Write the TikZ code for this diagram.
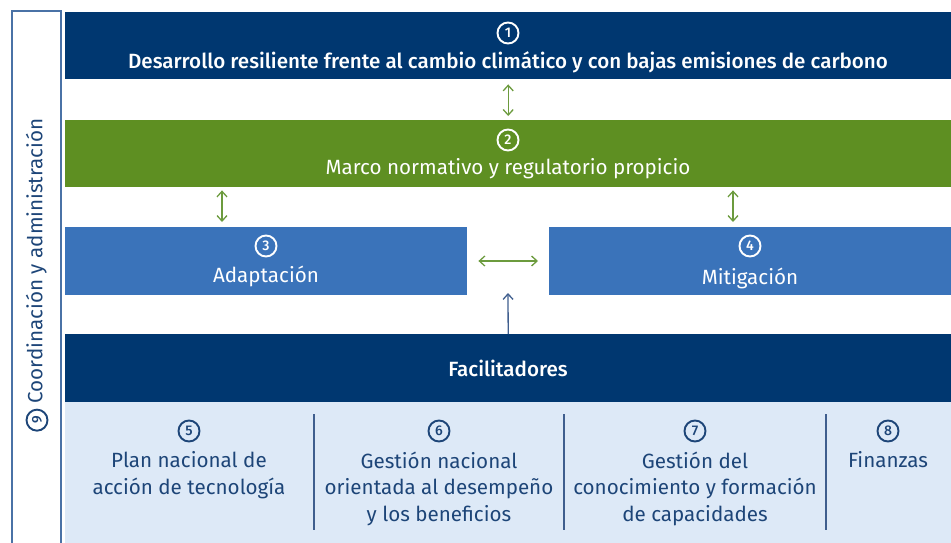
\documentclass[tikz,border=0pt]{standalone}
\usepackage{fontspec}
\setmainfont{Fira Sans}
\newfontfamily\medfont{Fira Sans Medium}
\usetikzlibrary{arrows.meta,calc}
\definecolor{dblue}{HTML}{003770}
\definecolor{dgreen}{HTML}{5E8F22}
\definecolor{mblue}{HTML}{3A73BA}
\definecolor{lblue}{HTML}{DDE9F7}
\definecolor{tblue}{HTML}{1D4578}
\definecolor{fblue}{HTML}{4A72A6}
\definecolor{agreen}{HTML}{6C9B3E}
\definecolor{ablue}{HTML}{3F5E8E}
\tikzset{
  blk/.style={draw=none,anchor=north west,inner sep=0pt},
  numc/.style={circle,draw=#1,line width=1.9pt,text=#1,inner sep=0pt,minimum size=21pt,font=\medfont\fontsize{14}{14}\selectfont},
  wtxt/.style={text=white,font=\fontsize{20.6}{24}\selectfont,align=center},
  btxt/.style={text=tblue,font=\fontsize{20.6}{26.5}\selectfont,align=center},
  garr/.style={{Straight Barb[length=5.5pt,width=10pt]}-{Straight Barb[length=5.5pt,width=10pt]},draw=agreen,line width=1.3pt},
  barr/.style={-{Straight Barb[length=5.5pt,width=10pt]},draw=ablue,line width=1.3pt},
  divl/.style={draw=ablue,line width=1.3pt}
}
\begin{document}
\begin{tikzpicture}[x=1pt,y=-1pt]
\useasboundingbox (0,0) rectangle (951,543);
% left frame
\draw[fblue,line width=1.3pt] (12,545) -- (12,11) -- (61,11) -- (61,545);
\node[rotate=90,text=tblue,font=\fontsize{20.6}{24}\selectfont] (coord) at (37,275)
  {\tikz[baseline=-0.5ex]\node[numc=tblue,rotate=0]{9};\ Coordinación y administración};
% boxes
\fill[dblue] (65,12) rectangle (951,79);
\node[blk,minimum width=886pt,minimum height=67pt] (b1) at (65,12) {};
\fill[dgreen] (65,120) rectangle (951,187);
\node[blk,minimum width=886pt,minimum height=67pt] (b2) at (65,120) {};
\fill[mblue] (65,227) rectangle (467,295);
\node[blk,minimum width=402pt,minimum height=68pt] (b3) at (65,227) {};
\fill[mblue] (549,227) rectangle (951,295);
\node[blk,minimum width=402pt,minimum height=68pt] (b4) at (549,227) {};
\fill[dblue] (65,334) rectangle (951,402);
\node[blk,minimum width=886pt,minimum height=68pt] (fac) at (65,334) {};
\fill[lblue] (65,402) rectangle (951,545);
% texts
\node[numc=white] (n1) at (508,33) {1};
\node[wtxt,font=\medfont\fontsize{20.6}{24}\selectfont] (t1) at (508,62) {Desarrollo resiliente frente al cambio climático y con bajas emisiones de carbono};
\node[numc=white] (n2) at (508,140) {2};
\node[wtxt] (t2) at (508,169) {Marco normativo y regulatorio propicio};
\node[numc=white] (n3) at (266,246) {3};
\node[wtxt] (t3) at (266,276) {Adaptación};
\node[numc=white] (n4) at (750,246) {4};
\node[wtxt] (t4) at (750,278) {Mitigación};
\node[wtxt,font=\medfont\fontsize{20.6}{24}\selectfont] (t5) at (508,368) {Facilitadores};
% bottom columns
\node[numc=tblue] (n5) at (189,431) {5};
\node[btxt,anchor=north] (c5) at (189,448) {Plan nacional de\\acción de tecnología};
\node[numc=tblue] (n6) at (439,431) {6};
\node[btxt,anchor=north] (c6) at (439,448) {Gestión nacional\\orientada al desempeño\\y los beneficios};
\node[numc=tblue] (n7) at (695,431) {7};
\node[btxt,anchor=north] (c7) at (695,448) {Gestión del\\conocimiento y formación\\de capacidades};
\node[numc=tblue] (n8) at (888,431) {8};
\node[btxt,anchor=north] (c8) at (888,448) {Finanzas};
\coordinate (d1a) at (314,414); \coordinate (d1b) at (314,530);
\coordinate (d2a) at (564,414); \coordinate (d2b) at (564,530);
\coordinate (d3a) at (826,414); \coordinate (d3b) at (826,530);
\draw[divl] (d1a) -- (d1b);
\draw[divl] (d2a) -- (d2b);
\draw[divl] (d3a) -- (d3b);
% arrows
\coordinate (x23) at (222,0);
\coordinate (x24) at (733,0);
\coordinate (yh) at (0,261);
\coordinate (up) at (508,293);
\draw[garr,shorten <=5pt,shorten >=4pt] (b1.south) -- (b2.north);
\draw[garr,shorten <=3pt,shorten >=5pt] (b2.south -| x23) -- (b3.north -| x23);
\draw[garr,shorten <=3pt,shorten >=5pt] (b2.south -| x24) -- (b4.north -| x24);
\draw[garr,shorten <=11pt,shorten >=11pt] (b3.east |- yh) -- (b4.west |- yh);
\draw[barr] (fac.north) -- (up);
\end{tikzpicture}
\end{document}
